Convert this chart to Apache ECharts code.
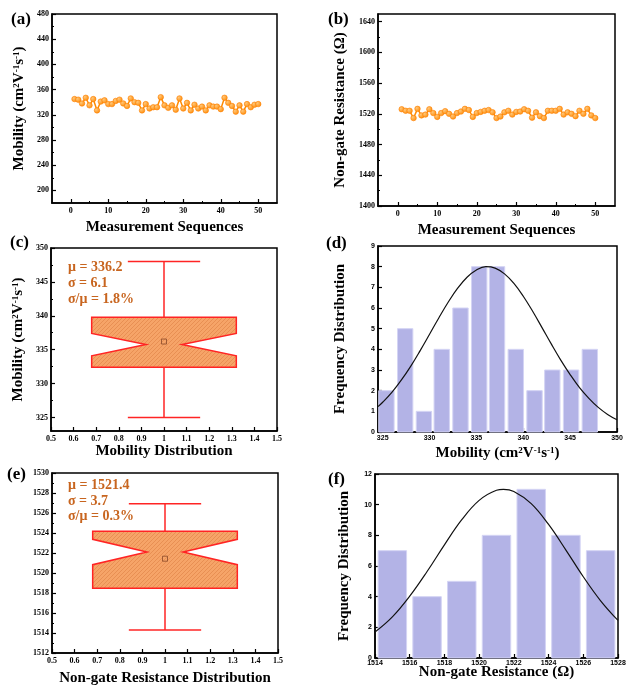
<!DOCTYPE html>
<html><head><meta charset="utf-8">
<script src="https://cdn.jsdelivr.net/npm/echarts@6/dist/echarts.min.js"></script>
<style>html,body{margin:0;padding:0;background:#fff}#c{width:626px;height:685px}</style>
</head><body><div id="c"></div>
<script>
// ---------- data ----------
const seq = Array.from({length: 50}, (_, i) => i + 1);
const mobility = [345,344,338,347,335,345,327,341,343,337,337,342,344,338,334,346,340,339,327,337,330,332,332,348,335,331,335,328,346,330,339,327,336,330,333,327,335,333,333,329,347,339,334,325,335,325,337,332,336,337];
const resistance = [1526,1524,1524,1514.5,1526.5,1518,1519,1526,1521,1516,1521,1523.5,1520,1516.5,1521,1523,1526.5,1525,1516,1521,1522.5,1524,1525,1522,1514.5,1516.5,1522,1524,1519,1522.5,1523,1526,1524,1515,1522,1517,1514.5,1524,1524,1524,1526.5,1519,1522,1520,1517,1524,1520,1526.5,1518,1514.5];

// box stats: [min, q1, notchLow, median, notchHigh, q3, max]
const mobBox = [325, 332.4, 334.1, 335.75, 337.4, 339.8, 348];
const mobMean = 336.2;
const resBox = [1514.3, 1518.47, 1520.83, 1522.1, 1523.37, 1524.17, 1526.93];
const resMean = 1521.43;

const mobBinCenters = [325.4,327.4,329.4,331.3,333.3,335.3,337.2,339.2,341.2,343.1,345.1,347.1];
const mobBinCounts  = [2,5,1,4,6,8,8,4,2,3,3,4];
const mobCurveX = [324.5,325,326,327,328,329,330,331,332,333,334,335,336,337,338,339,340,341,342,343,344,345,346,347,348,349,350];
const mobCurveY = [1.23,1.44,1.93,2.52,3.19,3.94,4.73,5.53,6.29,6.96,7.49,7.84,8.00,7.93,7.65,7.19,6.57,5.84,5.05,4.25,3.48,2.78,2.15,1.63,1.19,0.85,0.59];

const resBinCenters = [1515,1517,1519,1521,1523,1525,1527];
const resBinCounts  = [7,4,5,8,11,8,7];
const resCurveX = [1514,1515,1516,1517,1518,1519,1520,1521,1521.4,1522,1523,1524,1525,1526,1527,1528];
const resCurveY = [1.69,2.68,4.03,5.64,7.38,9.02,10.28,10.94,11.0,10.86,10.07,8.71,7.04,5.30,3.73,2.45];

const ticksSeq = [0,10,20,30,40,50];
const minorSeq = [5,15,25,35,45];
const ticksMobA = [200,240,280,320,360,400,440,480];
const minorMobA = [220,260,300,340,380,420,460];
const ticksResB = [1400,1440,1480,1520,1560,1600,1640];
const minorResB = [1420,1460,1500,1540,1580,1620];
const ticksBoxX = [0.5,0.6,0.7,0.8,0.9,1,1.1,1.2,1.3,1.4,1.5];
const ticksMobC = [325,330,335,340,345,350];
const minorMobC = [327.5,332.5,337.5,342.5,347.5];
const ticksResE = [1512,1514,1516,1518,1520,1522,1524,1526,1528,1530];
const minorResE = [1513,1515,1517,1519,1521,1523,1525,1527,1529];
const ticksMobD = [325,330,335,340,345,350];
const ticksFreqD = [0,1,2,3,4,5,6,7,8,9];
const ticksResF = [1514,1516,1518,1520,1522,1524,1526,1528];
const ticksFreqF = [0,2,4,6,8,10,12];

// ---------- styling helpers ----------
const SERIF = '"Liberation Serif","Times New Roman",serif';
const SANS = '"Liberation Sans",Arial,sans-serif';
const RICH = {sup: {fontSize: 9, fontWeight: 'bold', fontFamily: SERIF, color: '#000', verticalAlign: 'top'}};
const mobUnit = 'Mobility (cm{sup|2}V{sup|-1}s{sup|-1})';

function mainAxis(o) {
  return {
    type: 'value', gridIndex: o.g, min: o.min, max: o.max, position: o.pos, offset: 0,
    axisLine: {show: true, onZero: false, lineStyle: {color: '#000', width: 1.5}},
    axisTick: {show: true, inside: true, length: 4, customValues: o.ticks, lineStyle: {color: '#000', width: 1.2}},
    axisLabel: {show: true, customValues: o.ticks, margin: o.margin, color: '#000', fontFamily: o.font || SERIF,
                fontWeight: 'bold', fontSize: o.fs || 8, formatter: v => String(v)},
    splitLine: {show: false}, minorTick: {show: false},
    name: o.name || '', nameLocation: 'middle', nameGap: o.gap || 20, nameMoveOverlap: false,
    nameTextStyle: {fontFamily: SERIF, fontWeight: 'bold', fontSize: 15, color: '#000', rich: RICH}
  };
}
function minorAxis(o) {
  return {
    type: 'value', gridIndex: o.g, min: o.min, max: o.max, position: o.pos, offset: 0,
    axisLine: {show: false, onZero: false}, axisLabel: {show: false}, splitLine: {show: false},
    axisTick: {show: true, inside: true, length: 2, customValues: o.ticks, lineStyle: {color: '#000', width: 1}}
  };
}

function hatch() {
  const c = document.createElement('canvas'); c.width = 4; c.height = 4;
  const x = c.getContext('2d');
  x.fillStyle = '#f6a468'; x.fillRect(0, 0, 4, 4);
  x.strokeStyle = 'rgba(205,105,45,0.5)'; x.lineWidth = 0.7;
  x.beginPath(); x.moveTo(0, 4); x.lineTo(4, 0); x.stroke();
  return {type: 'pattern', image: c, repeat: 'repeat'};
}
const HATCH = hatch();

function boxRender(stats, mean) {
  return function (params, api) {
    const [mn, q1, nL, med, nH, q3, mx] = stats;
    const P = (x, y) => api.coord([x, y]);
    const red = {stroke: '#ff2424', lineWidth: 1.5, fill: null};
    const L = (a, b) => ({type: 'line', shape: {x1: a[0], y1: a[1], x2: b[0], y2: b[1]}, style: red});
    const poly = [P(0.68, q3), P(1.32, q3), P(1.32, nH), P(1.08, med), P(1.32, nL), P(1.32, q1),
                  P(0.68, q1), P(0.68, nL), P(0.92, med), P(0.68, nH)];
    const c = P(1, mean);
    return {type: 'group', children: [
      L(P(1, q3), P(1, mx)), L(P(1, q1), P(1, mn)),
      L(P(0.84, mx), P(1.16, mx)), L(P(0.84, mn), P(1.16, mn)),
      {type: 'polygon', shape: {points: poly}, style: {fill: HATCH, stroke: '#ff2424', lineWidth: 1.5}},
      {type: 'rect', shape: {x: c[0] - 2.5, y: c[1] - 2.5, width: 5, height: 5}, style: {fill: null, stroke: '#8a4a2a', lineWidth: 0.8}}
    ]};
  };
}
function barRender(half) {
  return function (params, api) {
    const x = api.value(0), v = api.value(1);
    const a = api.coord([x - half, v]), b = api.coord([x + half, 0]);
    return {type: 'rect', shape: {x: a[0], y: a[1], width: b[0] - a[0], height: b[1] - a[1]},
            style: {fill: '#b3b3e6', stroke: '#d4d4f4', lineWidth: 1}};
  };
}

const ballColor = {type: 'radial', x: 0.35, y: 0.35, r: 0.75,
  colorStops: [{offset: 0, color: '#ffc77a'}, {offset: 1, color: '#ff8800'}]};

// ---------- layout ----------
const grids = [
  {left: 52, top: 14, width: 225, height: 189},
  {left: 378, top: 14, width: 237, height: 192},
  {left: 51, top: 248, width: 226, height: 183},
  {left: 378, top: 246, width: 239, height: 186},
  {left: 52, top: 473, width: 226, height: 180},
  {left: 375, top: 474, width: 243, height: 184}
].map(g => Object.assign(g, {show: true, borderColor: '#000', borderWidth: 1.5, backgroundColor: 'transparent', containLabel: false, outerBoundsMode: 'none'}));

const xAxis = [
  mainAxis({g: 0, min: -5, max: 55, pos: 'bottom', ticks: ticksSeq, margin: 4, name: 'Measurement Sequences', gap: 17}), // 0
  minorAxis({g: 0, min: -5, max: 55, pos: 'bottom', ticks: minorSeq}),                                                  // 1
  mainAxis({g: 1, min: -5, max: 55, pos: 'bottom', ticks: ticksSeq, margin: 4, name: 'Measurement Sequences', gap: 17}), // 2
  minorAxis({g: 1, min: -5, max: 55, pos: 'bottom', ticks: minorSeq}),                                                  // 3
  mainAxis({g: 2, min: 0.5, max: 1.5, pos: 'bottom', ticks: ticksBoxX, margin: 4, name: 'Mobility Distribution', gap: 13}), // 4
  mainAxis({g: 3, min: 324.5, max: 350, pos: 'bottom', ticks: ticksMobD, margin: 3, font: SANS, fs: 7, name: mobUnit, gap: 14}), // 5
  mainAxis({g: 4, min: 0.5, max: 1.5, pos: 'bottom', ticks: ticksBoxX, margin: 4, name: 'Non-gate Resistance Distribution', gap: 18}), // 6
  mainAxis({g: 5, min: 1514, max: 1528, pos: 'bottom', ticks: ticksResF, margin: 2, font: SANS, fs: 7, name: 'Non-gate Resistance (Ω)', gap: 7}) // 7
];
const yAxis = [
  mainAxis({g: 0, min: 180, max: 480, pos: 'left', ticks: ticksMobA, margin: 3, name: mobUnit, gap: 25}), // 0
  minorAxis({g: 0, min: 180, max: 480, pos: 'left', ticks: minorMobA}),                                 // 1
  mainAxis({g: 1, min: 1400, max: 1650, pos: 'left', ticks: ticksResB, margin: 3, name: 'Non-gate Resistance (Ω)', gap: 30}), // 2
  minorAxis({g: 1, min: 1400, max: 1650, pos: 'left', ticks: minorResB}),                              // 3
  mainAxis({g: 2, min: 323, max: 350, pos: 'left', ticks: ticksMobC, margin: 3, name: mobUnit, gap: 25}), // 4
  minorAxis({g: 2, min: 323, max: 350, pos: 'left', ticks: minorMobC}),                                // 5
  mainAxis({g: 3, min: 0, max: 9, pos: 'left', ticks: ticksFreqD, margin: 3, font: SANS, fs: 7, name: 'Frequency Distribution', gap: 30}), // 6
  mainAxis({g: 4, min: 1512, max: 1530, pos: 'left', ticks: ticksResE, margin: 3}),                    // 7
  minorAxis({g: 4, min: 1512, max: 1530, pos: 'left', ticks: minorResE}),                              // 8
  mainAxis({g: 5, min: 0, max: 12, pos: 'left', ticks: ticksFreqF, margin: 3, font: SANS, fs: 7, name: 'Frequency Distribution', gap: 23}) // 9
];

const lineStyleSeries = (xi, yi, ys) => ({
  type: 'line', xAxisIndex: xi, yAxisIndex: yi,
  data: seq.map((s, i) => [s, ys[i]]),
  symbol: 'circle', symbolSize: 5.5, showSymbol: true,
  lineStyle: {color: '#ff8a00', width: 1.5},
  itemStyle: {color: ballColor, borderColor: '#ff8000', borderWidth: 0.6},
  animation: false
});

const series = [
  lineStyleSeries(0, 0, mobility),
  lineStyleSeries(2, 2, resistance),
  {type: 'custom', xAxisIndex: 4, yAxisIndex: 4, data: [[1, mobMean]], renderItem: boxRender(mobBox, mobMean), animation: false},
  {type: 'custom', xAxisIndex: 5, yAxisIndex: 6, data: mobBinCenters.map((c, i) => [c, mobBinCounts[i]]), renderItem: barRender(0.82), animation: false},
  {type: 'line', xAxisIndex: 5, yAxisIndex: 6, data: mobCurveX.map((x, i) => [x, mobCurveY[i]]), smooth: 0.4, showSymbol: false, symbol: 'none', lineStyle: {color: '#111', width: 1.2}, animation: false},
  {type: 'custom', xAxisIndex: 6, yAxisIndex: 7, data: [[1, resMean]], renderItem: boxRender(resBox, resMean), animation: false},
  {type: 'custom', xAxisIndex: 7, yAxisIndex: 9, data: resBinCenters.map((c, i) => [c, resBinCounts[i]]), renderItem: barRender(0.82), animation: false},
  {type: 'line', xAxisIndex: 7, yAxisIndex: 9, data: resCurveX.map((x, i) => [x, resCurveY[i]]), smooth: 0.4, showSymbol: false, symbol: 'none', lineStyle: {color: '#111', width: 1.2}, animation: false}
];

function txt(text, x, y, size, color) {
  return {type: 'text', x: x, y: y, z: 100, style: {text: text, fill: color || '#000',
    font: 'bold ' + size + 'px ' + SERIF, textAlign: 'left', textVerticalAlign: 'middle', align: 'left', verticalAlign: 'middle'}};
}
const STAT = '#c8651f';
const graphic = [
  txt('(a)', 11, 20, 17), txt('(b)', 328, 20, 17), txt('(c)', 10, 243, 17),
  txt('(d)', 326, 244, 17), txt('(e)', 7, 475, 17), txt('(f)', 328, 480, 17),
  txt('μ = 336.2', 68, 267, 14, STAT), txt('σ = 6.1', 68, 283, 14, STAT), txt('σ/μ = 1.8%', 68, 299, 14, STAT),
  txt('μ = 1521.4', 68, 485, 14, STAT), txt('σ = 3.7', 68, 501, 14, STAT), txt('σ/μ = 0.3%', 68, 516, 14, STAT)
];

const chart = echarts.init(document.getElementById('c'), null, {renderer: 'canvas'});
chart.setOption({animation: false, backgroundColor: '#fff', grid: grids, xAxis: xAxis, yAxis: yAxis, series: series, graphic: graphic});
</script></body></html>
